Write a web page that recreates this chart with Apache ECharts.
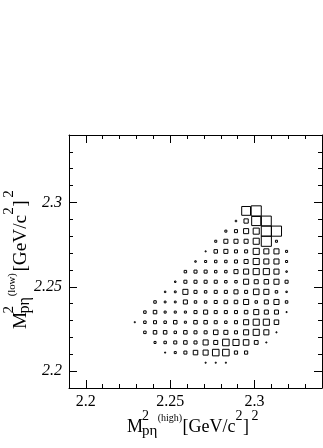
<!DOCTYPE html>
<html><head><meta charset="utf-8">
<script src="https://cdn.jsdelivr.net/npm/echarts@6/dist/echarts.min.js"></script>
<style>html,body{margin:0;padding:0;background:#fff}#c{width:323px;height:448px}</style>
</head><body><div id="c"></div>
<script>
// Histogram binning (data space)
const xLow = 2.19, yLow = 2.19, binWidth = 0.006, vMax = 100;
const xMajorTicks = [2.2, 2.25, 2.3];
const yMajorTicks = [2.2, 2.25, 2.3];
const minorTicks = [2.21, 2.22, 2.23, 2.24, 2.26, 2.27, 2.28, 2.29, 2.31, 2.32, 2.33];

// Bin contents, one array per y-bin (index = x-bin)
const row02 = [0,0,0,0,0,0,0,0,0,0,0,0,0,1,1,1,0,0,0,0,0,0,0,0,0];
const row03 = [0,0,0,0,0,0,0,0,0,1,4,9,20,25,42,42,10,10,0,0,0,0,0,0,0];
const row04 = [0,0,0,0,0,0,0,0,4,6,9,12,9,25,16,42,36,30,14,1,0,0,0,0,0];
const row05 = [0,0,0,0,0,0,0,6,12,12,6,12,9,9,20,16,9,25,36,25,1,0,0,0,0];
const row06 = [0,0,0,0,0,0,1,6,9,6,12,4,12,12,9,6,9,25,36,36,20,0,0,0,0];
const row07 = [0,0,0,0,0,0,0,6,12,4,4,4,9,16,9,9,9,12,25,16,16,1,0,0,0];
const row08 = [0,0,0,0,0,0,0,0,6,3,3,16,6,6,9,12,12,25,6,16,25,6,0,0,0];
const row09 = [0,0,0,0,0,0,0,0,0,2,3,25,9,6,9,9,16,9,30,25,6,2,0,0,0];
const row10 = [0,0,0,0,0,0,0,0,0,0,2,9,9,9,9,6,6,25,16,20,25,9,0,0,0];
const row11 = [0,0,0,0,0,0,0,0,0,0,0,6,9,9,6,6,16,25,36,36,25,2,0,0,0];
const row12 = [0,0,0,0,0,0,0,0,0,0,0,0,2,4,6,6,9,16,36,25,25,4,0,0,0];
const row13 = [0,0,0,0,0,0,0,0,0,0,0,0,0,1,12,16,9,9,36,25,25,4,0,0,0];
const row14 = [0,0,0,0,0,0,0,0,0,0,0,0,0,0,4,16,16,16,36,100,4,0,0,0,0];
const row15 = [0,0,0,0,0,0,0,0,0,0,0,0,0,0,0,4,9,25,36,100,100,0,0,0,0];
const row16 = [0,0,0,0,0,0,0,0,0,0,0,0,0,0,0,0,2,18,81,95,0,0,0,0,0];
const row17 = [0,0,0,0,0,0,0,0,0,0,0,0,0,0,0,0,0,76,100,0,0,0,0,0,0];
const rows = [[2,row02],[3,row03],[4,row04],[5,row05],[6,row06],[7,row07],[8,row08],[9,row09],
  [10,row10],[11,row11],[12,row12],[13,row13],[14,row14],[15,row15],[16,row16],[17,row17]];

const data = [];
rows.forEach(([j, arr]) => arr.forEach((v, k) => {
  if (v > 0) data.push([xLow + binWidth * (k + 0.5), yLow + binWidth * (j + 0.5), v]);
}));

const SERIF = "'Liberation Serif','Times New Roman',serif";
const base = {type: 'value', min: 2.19, max: 2.34, splitLine: {show: false}};
const lineOn = {show: true, onZero: false, lineStyle: {color: '#000', width: 1}};
function axis(pos, major, labelOpt, italic) {
  return Object.assign({}, base, {
    position: pos,
    axisLine: major ? lineOn : {show: false},
    axisTick: {show: true, inside: true, length: major ? 8 : 4,
      customValues: major ? xMajorTicks : minorTicks, lineStyle: {color: '#000', width: 1}},
    axisLabel: labelOpt ? Object.assign({show: true, customValues: major ? yMajorTicks : minorTicks,
      fontFamily: SERIF, fontSize: 16, color: '#000', fontStyle: italic ? 'italic' : 'normal'}, labelOpt)
      : {show: false}
  });
}

function renderItem(params, api) {
  const c = api.coord([api.value(0), api.value(1)]);
  const s = api.size([binWidth, binWidth]);
  const f = Math.sqrt(api.value(2) / vMax);
  const w = Math.max(1, s[0] * f), h = Math.max(1, s[1] * f);
  return {type: 'rect', shape: {x: c[0] - w / 2, y: c[1] - h / 2, width: w, height: h},
    style: {fill: 'none', stroke: '#000', lineWidth: 1}};
}

function t(text, x, y, size) {
  return {type: 'text', x: x, y: y, style: {text: text, font: size + 'px ' + SERIF, fill: '#000',
    align: 'left', verticalAlign: 'middle', textAlign: 'left', textVerticalAlign: 'middle'}};
}

const chart = echarts.init(document.getElementById('c'), null, {renderer: 'canvas'});
chart.setOption({
  animation: false,
  backgroundColor: '#fff',
  grid: {left: 69, top: 135, width: 253, height: 253, containLabel: false, outerBoundsMode: 'none'},
  xAxis: [axis('bottom', true, {margin: 6}, false), axis('bottom', false), axis('top', true), axis('top', false)],
  yAxis: [axis('left', true, {margin: 7}, true), axis('left', false), axis('right', true), axis('right', false)],
  series: [{type: 'custom', renderItem: renderItem, data: data, xAxisIndex: 0, yAxisIndex: 0,
    encode: {x: 0, y: 1}, clip: false}],
  graphic: [
    {type: 'group', children: [
      t('M', 127, 426.9, 18), t('2', 142, 416.3, 14), t('p\u03b7', 142, 431, 15),
      t('(high)', 157.7, 418.8, 10), t('[GeV/c', 182.5, 426.9, 18), t('2', 235.5, 416.3, 14),
      t(']', 243, 426.9, 18), t('2', 251.5, 416.3, 14)
    ]},
    {type: 'group', x: 27, y: 329, rotation: Math.PI / 2, scaleX: 1.07, scaleY: 1.07, children: [
      t('M', 0, -6.1, 18), t('2', 14.5, -16.7, 14), t('p\u03b7', 14.5, -2.1, 15),
      t('(low)', 30.5, -13.9, 10), t('[GeV/c', 53.7, -6.1, 18), t('2', 106.7, -16.7, 14),
      t(']', 114.2, -6.1, 18), t('2', 122.7, -16.7, 14)
    ]}
  ]
});
</script></body></html>
